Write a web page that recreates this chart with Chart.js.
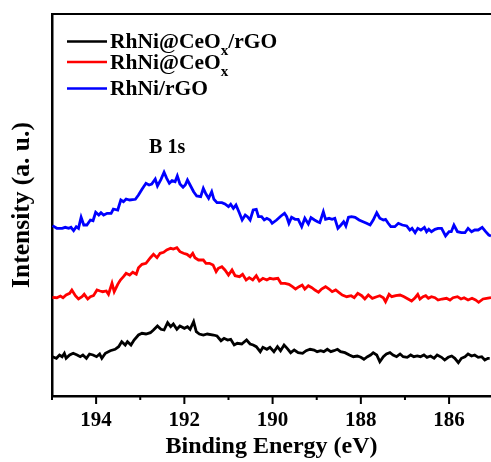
<!DOCTYPE html>
<html>
<head>
<meta charset="utf-8">
<title>B 1s XPS</title>
<script src="https://cdn.jsdelivr.net/npm/chart.js@4.4.1/dist/chart.umd.min.js"></script>
<style>
  html, body { margin: 0; padding: 0; background: #fff; }
  #wrap { width: 491px; height: 462px; }
</style>
</head>
<body>
<div id="wrap"><canvas id="xps" width="491" height="462"></canvas></div>
<script>
// B 1s spectra, binding energy (eV) vs intensity (a. u., offset per sample)
const energyBlack = [
  194.99, 194.90, 194.83, 194.77, 194.72, 194.68, 194.60, 194.52, 194.43, 194.36,
  194.30, 194.22, 194.15, 194.07, 193.99, 193.92, 193.87, 193.79, 193.68, 193.57,
  193.49, 193.42, 193.34, 193.29, 193.21, 193.14, 193.04, 192.96, 192.87, 192.77,
  192.70, 192.61, 192.53, 192.46, 192.38, 192.31, 192.25, 192.17, 192.10, 192.00,
  191.93, 191.87, 191.79, 191.73, 191.66, 191.57, 191.48, 191.34, 191.26, 191.17,
  191.10, 191.02, 190.95, 190.87, 190.80, 190.70, 190.59, 190.51, 190.44, 190.37,
  190.28, 190.22, 190.13, 190.06,
  189.97, 189.89, 189.82, 189.74, 189.67, 189.59, 189.51, 189.42, 189.32, 189.24,
  189.15, 189.06, 188.99, 188.91, 188.84, 188.76, 188.68, 188.61, 188.53, 188.46,
  188.36, 188.26, 188.17, 188.08, 188.00, 187.93, 187.85, 187.78, 187.72, 187.64,
  187.57, 187.49, 187.42, 187.34, 187.27, 187.19, 187.11, 187.04, 186.95, 186.87,
  186.80, 186.72, 186.65, 186.57, 186.50, 186.42, 186.34, 186.27, 186.17, 186.10,
  186.02, 185.94, 185.87, 185.79, 185.72, 185.64, 185.57, 185.49, 185.42, 185.34,
  185.26, 185.19, 185.12, 185.08
];
const intensityBlack = [
  39.3, 37.7, 41, 39.3, 42.7, 37.7, 41, 42.7, 41, 39.3,
  41, 37.7, 42, 41, 39.3, 42, 37.7, 42.7, 45.3, 46.7,
  49.3, 54.3, 51, 54.3, 51, 56, 61, 62.7, 62, 63.3,
  66, 70, 66.7, 66, 73.3, 69.3, 72, 66.7, 70, 67.7,
  69.3, 66.7, 74.3, 64.3, 62, 61, 62, 61, 60, 55.3,
  57.7, 56, 56.7, 51, 52.7, 52, 56, 52, 51, 49.3,
  44.3, 48.7, 46.7, 48.7,
  44.3, 49.3, 45.3, 51, 47.7, 43.3, 46, 43.3, 42.7, 45.3,
  46.7, 46, 44.3, 45.3, 44.3, 46.7, 44.3, 45.3, 46.7, 44.3,
  43.3, 41, 39.3, 40, 38.7, 36.7, 39.3, 41, 43.3, 41,
  34.3, 39.3, 42, 43.3, 41, 39.3, 42, 39.3, 38.7, 41,
  39.3, 40, 39.3, 41, 38.7, 40, 37.7, 41, 38.7, 36,
  38.7, 40, 37.7, 33.3, 37.7, 39.3, 42, 40, 41, 38.7,
  39.3, 36, 37.7, 37.7
];

const energyRed = [
  194.99, 194.89, 194.81, 194.75, 194.68, 194.60, 194.55, 194.47, 194.40, 194.32,
  194.27, 194.19, 194.13, 194.06, 193.98, 193.91, 193.85, 193.77, 193.72, 193.64,
  193.59, 193.51, 193.45, 193.38, 193.32, 193.24, 193.17, 193.09, 193.04, 192.96,
  192.87, 192.77, 192.70, 192.62, 192.55, 192.47, 192.40, 192.31, 192.25, 192.17,
  192.10, 192.02, 191.94, 191.87, 191.81, 191.76, 191.68, 191.57, 191.51, 191.43,
  191.35, 191.28, 191.23, 191.15, 191.08, 191.00, 190.92, 190.85, 190.75, 190.68,
  190.60, 190.53, 190.45, 190.37, 190.30, 190.22, 190.13, 190.06,
  189.98, 189.88, 189.81, 189.72, 189.63, 189.55, 189.48, 189.40, 189.33, 189.27,
  189.19, 189.11, 189.04, 188.96, 188.89, 188.80, 188.72, 188.65, 188.57, 188.50,
  188.42, 188.32, 188.22, 188.15, 188.07, 187.98, 187.91, 187.83, 187.74, 187.64,
  187.57, 187.49, 187.44, 187.36, 187.30, 187.21, 187.11, 187.02, 186.93, 186.85,
  186.77, 186.71, 186.66, 186.59, 186.53, 186.47, 186.40, 186.32, 186.25, 186.16,
  186.06, 185.98, 185.91, 185.81, 185.73, 185.66, 185.57, 185.48, 185.40, 185.33,
  185.23, 185.15, 185.05
];
const intensityRed = [
  98.7, 98.3, 100, 98.3, 101, 102.7, 106, 100.3, 97, 99.3,
  101.7, 97, 99.3, 100.3, 106, 105, 104.3, 105, 101.7, 112.7,
  104.3, 111.7, 116, 119.3, 122.7, 121, 123.7, 121.7, 128.3, 131.7,
  132.7, 138.3, 141.7, 138.3, 142.7, 143.7, 146, 147.7, 147, 148.3,
  144.3, 142.7, 141.7, 139.3, 142.7, 138.3, 136, 136, 132.7, 132.7,
  131, 124.3, 127.7, 129.3, 126, 121, 126, 120.3, 119.3, 121.7,
  116, 118.3, 116, 120.3, 115, 117.7, 116, 117.7,
  117, 117.7, 112.7, 112.7, 111.7, 109.3, 107, 109.3, 111, 107,
  110.3, 108.3, 106, 103.7, 107, 109.3, 107, 104.3, 106, 103.7,
  101, 99.3, 100.3, 98.3, 102.7, 100.3, 97, 101, 97.7, 99.3,
  100.3, 98.3, 94.3, 101.7, 99.3, 100.3, 101, 99.3, 97, 95,
  98.3, 101.7, 97, 99.3, 100.3, 97.7, 99.3, 98.3, 96, 97,
  97.7, 96, 98.3, 99.3, 97, 98.3, 96, 97.7, 96, 93.7,
  97, 97.7, 98.3
];

const energyBlue = [
  194.99, 194.89, 194.77, 194.70, 194.62, 194.57, 194.51, 194.45, 194.40, 194.34,
  194.28, 194.21, 194.13, 194.07, 194.01, 193.94, 193.89, 193.83, 193.75, 193.66,
  193.61, 193.51, 193.44, 193.38, 193.32, 193.24, 193.11, 193.04, 192.96, 192.87,
  192.80, 192.74, 192.66, 192.61, 192.53, 192.46, 192.40, 192.34, 192.28, 192.21,
  192.16, 192.10, 192.03, 191.98, 191.93, 191.87, 191.79, 191.72, 191.63, 191.57,
  191.51, 191.45, 191.38, 191.33, 191.26, 191.15, 191.08, 191.00, 190.95, 190.89,
  190.83, 190.75, 190.69, 190.62, 190.57, 190.51, 190.44, 190.37, 190.32, 190.25,
  190.19, 190.13, 190.06,
  190.01, 189.91, 189.81, 189.73, 189.68, 189.63, 189.57, 189.49, 189.42, 189.34,
  189.27, 189.19, 189.13, 189.05, 188.98, 188.93, 188.85, 188.80, 188.72, 188.65,
  188.59, 188.52, 188.45, 188.39, 188.34, 188.28, 188.21, 188.13, 188.04, 187.95,
  187.87, 187.79, 187.72, 187.64, 187.57, 187.49, 187.44, 187.38, 187.32, 187.23,
  187.15, 187.06, 186.96, 186.89, 186.84, 186.77, 186.71, 186.64, 186.56, 186.51,
  186.46, 186.40, 186.32, 186.25, 186.17, 186.08, 186.00, 185.95, 185.89, 185.81,
  185.72, 185.64, 185.57, 185.49, 185.42, 185.34, 185.25, 185.17, 185.10, 185.05
];
const intensityBlue = [
  170.3, 167.7, 167.7, 168.7, 167.7, 168.7, 165.3, 169.3, 167.7, 178.7,
  171, 171, 176, 175.3, 183.7, 181, 183.3, 181, 182.7, 182.7,
  187, 186, 196, 194.3, 197, 196, 196.7, 201, 206.7, 212.7,
  211, 212, 217, 210, 216.7, 223.7, 217.7, 212.7, 215.3, 214.3,
  220, 212, 208.7, 211, 216, 211, 204.3, 200, 199.3, 207.7,
  202, 197.7, 204.3, 196.7, 193.3, 193.3, 192, 189.3, 191.7, 187.7,
  191, 182.7, 176, 181, 179.3, 176, 186, 186.7, 179.3, 179.3,
  176, 177.7, 176,
  172.7, 176, 180, 182.7, 179.3, 172.7, 178.7, 176.7, 176.7, 169.3,
  177.7, 172, 178.3, 176, 174.3, 173.3, 184.3, 176.7, 177.7, 176.7,
  177.7, 167.7, 171, 174.3, 170, 178.7, 179.3, 178.7, 176, 174.3,
  172.7, 171, 176, 183.3, 177.7, 176, 176.7, 172.7, 169.3, 169.3,
  172.7, 171, 170, 166, 167.7, 163.3, 167.7, 166, 168.7, 164.3,
  166.7, 164.3, 166.7, 167.7, 167.7, 160, 164.3, 164.3, 171, 164.3,
  163.3, 163.3, 167.7, 164.3, 166, 166, 168.7, 164.3, 161, 160
];

const seriesLabels = ['RhNi@CeO_x/rGO', 'RhNi@CeO_x', 'RhNi/rGO'];
const seriesColors = ['#000000', '#ff0000', '#0000ff'];
const energyTicks = [195, 194, 193, 192, 191, 190, 189, 188, 187, 186];
const peakText = 'B 1s';
const peakEnergy = 192.39;
const peakLevel = 248;

const serif = "'Liberation Serif', 'Times New Roman', serif";

function toPoints(xs, ys) {
  return xs.map((e, i) => ({ x: e, y: ys[i] }));
}

// frame top, tick marks, peak label and legend (with subscripts)
const decor = {
  id: 'decor',
  afterDraw(chart) {
    const { ctx, chartArea: a, scales: { x, y } } = chart;
    ctx.save();
    ctx.strokeStyle = '#000';
    ctx.lineWidth = 2;
    ctx.beginPath();
    ctx.moveTo(a.left, a.top);
    ctx.lineTo(a.right, a.top);
    ctx.stroke();

    x.ticks.forEach(t => {
      const px = x.getPixelForValue(t.value);
      const len = t.value % 2 === 0 ? 8 : 4;
      ctx.beginPath();
      ctx.moveTo(px, a.bottom);
      ctx.lineTo(px, a.bottom + len);
      ctx.stroke();
    });

    ctx.fillStyle = '#000';
    ctx.font = 'bold 20px ' + serif;
    ctx.textAlign = 'center';
    ctx.textBaseline = 'middle';
    ctx.fillText(peakText, x.getPixelForValue(peakEnergy), y.getPixelForValue(peakLevel));

    // legend rows
    const rowY = [41.5, 62, 88.5];
    ctx.textAlign = 'left';
    ctx.textBaseline = 'alphabetic';
    chart.data.datasets.forEach((ds, i) => {
      const ly = rowY[i];
      ctx.strokeStyle = ds.borderColor;
      ctx.lineWidth = 2.5;
      ctx.beginPath();
      ctx.moveTo(67, ly);
      ctx.lineTo(107, ly);
      ctx.stroke();

      let tx = 110;
      const base = ly + 6.5;
      ds.label.split(/(_\w)/).forEach(part => {
        if (!part) return;
        if (part[0] === '_') {
          ctx.font = 'bold 15px ' + serif;
          ctx.fillText(part.slice(1), tx, base + 7);
          tx += ctx.measureText(part.slice(1)).width;
        } else {
          ctx.font = 'bold 21.5px ' + serif;
          ctx.fillText(part, tx, base);
          tx += ctx.measureText(part).width;
        }
      });
    });
    ctx.restore();
  }
};

const series = [
  [energyBlack, intensityBlack],
  [energyRed, intensityRed],
  [energyBlue, intensityBlue]
];

new Chart(document.getElementById('xps'), {
  type: 'line',
  data: {
    datasets: series.map((s, i) => ({
      label: seriesLabels[i],
      data: toPoints(s[0], s[1]),
      borderColor: seriesColors[i],
      borderWidth: 2.8,
      pointRadius: 0,
      tension: 0,
      fill: false
    }))
  },
  options: {
    responsive: false,
    devicePixelRatio: 1,
    animation: false,
    layout: { padding: { top: 14, right: 0, left: 0, bottom: 0 } },
    plugins: { legend: { display: false }, tooltip: { enabled: false } },
    scales: {
      x: {
        type: 'linear',
        reverse: true,
        min: 185.05,
        max: 195,
        afterBuildTicks: s => { s.ticks = energyTicks.map(v => ({ value: v })); },
        afterFit: s => { s.height = 66; },
        grid: { display: false, drawTicks: false },
        border: { display: true, color: '#000', width: 2.5 },
        ticks: {
          padding: 12,
          color: '#000',
          font: { family: serif, size: 21, weight: 'bold' },
          callback: v => (v % 2 === 0 && v < 195 ? String(v) : '')
        },
        title: {
          display: true,
          text: 'Binding Energy (eV)',
          color: '#000',
          font: { family: serif, size: 24, weight: 'bold' },
          padding: { top: 0, bottom: 1 }
        }
      },
      y: {
        min: 0,
        max: 382,
        afterFit: s => { s.width = 52; },
        grid: { display: false, drawTicks: false },
        border: { display: true, color: '#000', width: 2.5 },
        ticks: { display: false },
        title: {
          display: true,
          text: 'Intensity (a. u.)',
          color: '#000',
          font: { family: serif, size: 25.5, weight: 'bold' },
          padding: { top: 7, bottom: 0 }
        }
      }
    }
  },
  plugins: [decor]
});
</script>
</body>
</html>
